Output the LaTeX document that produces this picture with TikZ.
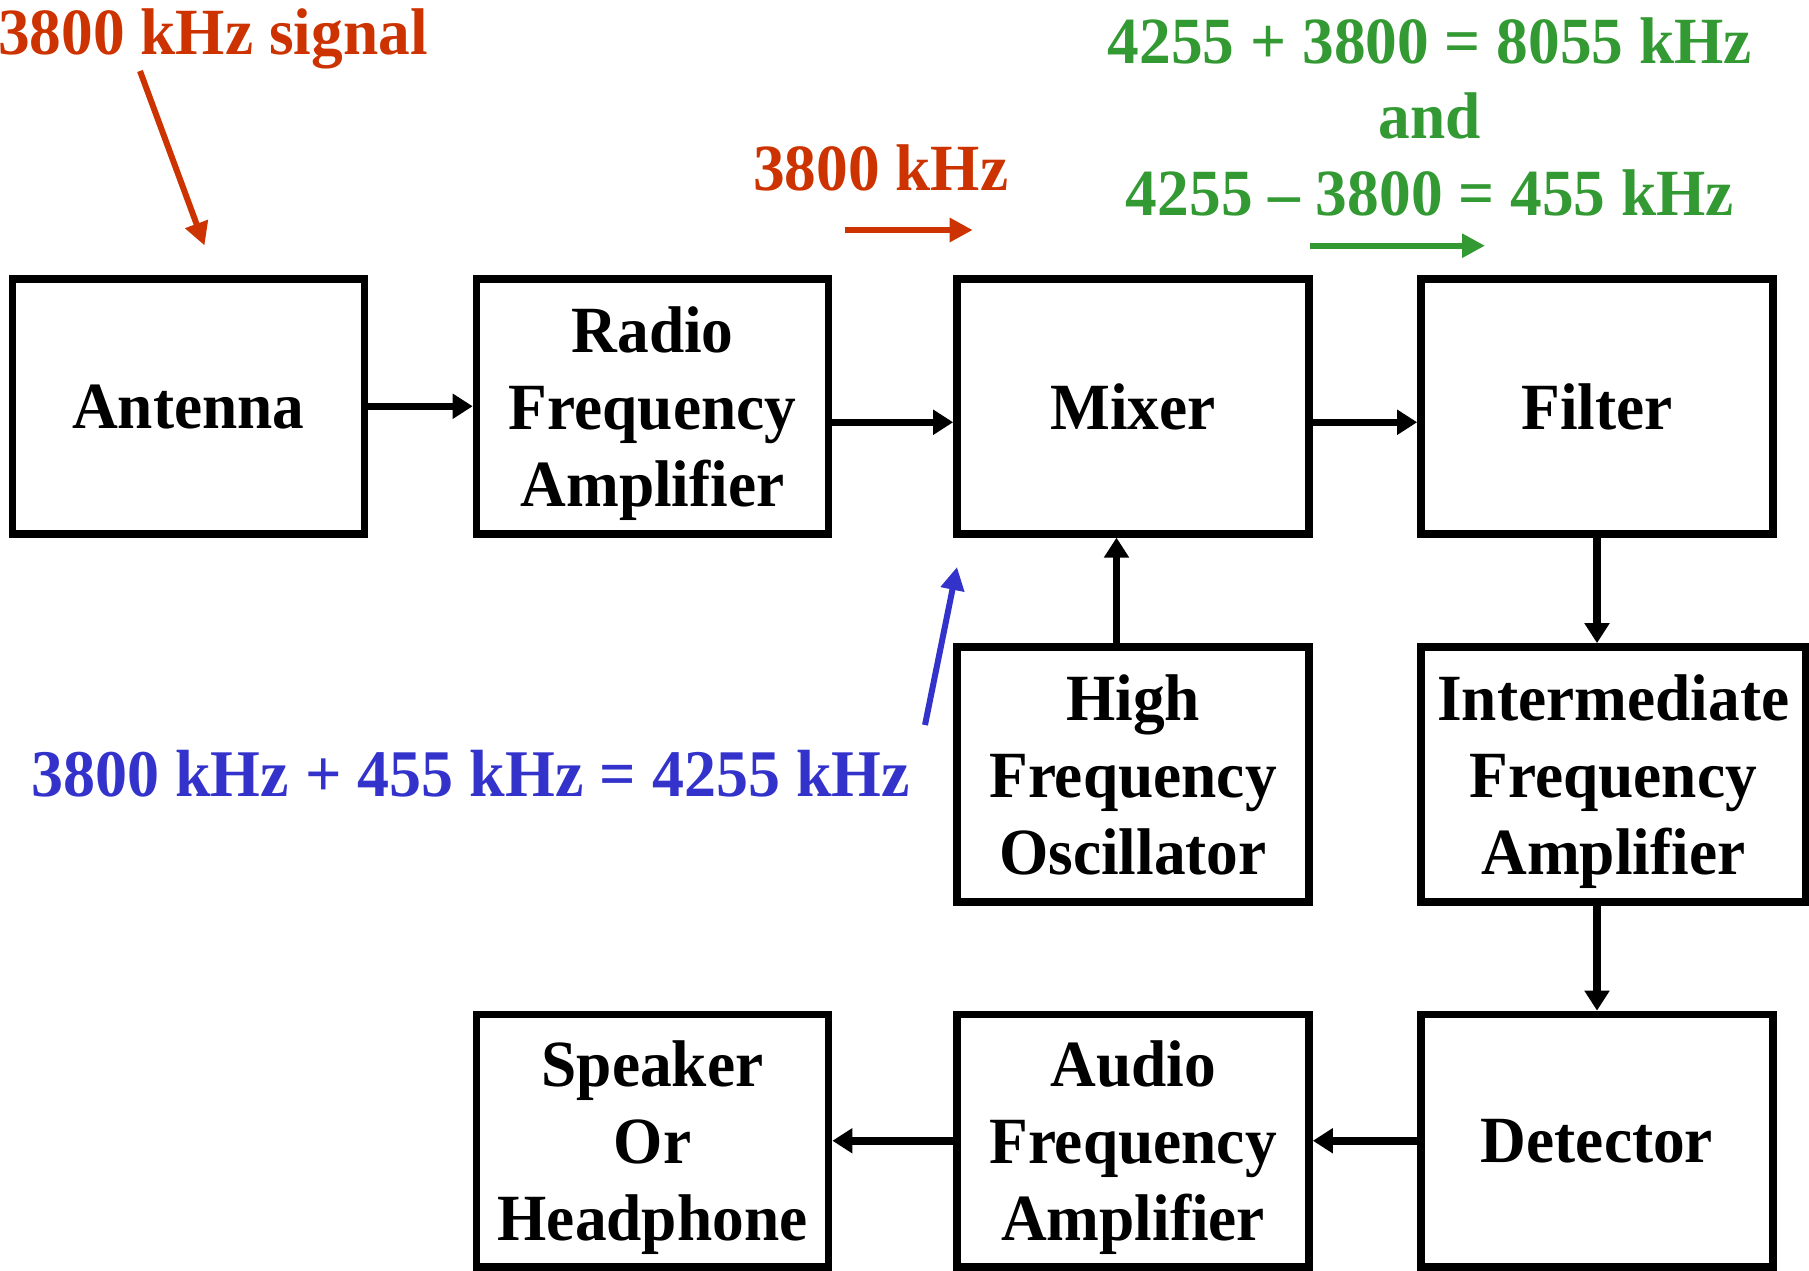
\documentclass[tikz,border=0pt]{standalone}
\usepackage{fontspec}
\setmainfont{Liberation Serif}[FakeStretch=0.96]
\usetikzlibrary{arrows.meta}
\definecolor{sigred}{HTML}{CC3300}
\definecolor{mixgreen}{HTML}{339933}
\definecolor{oscblue}{HTML}{3333CC}
\begin{document}
\begin{tikzpicture}[x=1pt,y=-1pt,
  block/.style={draw, line width=7.7pt, minimum width=352pt, minimum height=255pt,
    align=center, inner sep=0pt, text depth=0pt,
    font=\bfseries\fontsize{66}{77}\selectfont},
  flow/.style={line width=7.5pt, -{Triangle[length=20pt,width=24pt]}},
  note/.style={inner sep=0pt, font=\bfseries\fontsize{66}{77}\selectfont},
  hint/.style={line width=6pt, -{Triangle[length=23pt,width=23pt]}}]
\useasboundingbox (0,0) rectangle (1809,1271);

% receiver stages
\node[block] (ant) at (188.35,406.25) {Antenna};
\node[block] (rfa) at (652.55,406.25) {Radio\\Frequency\\Amplifier};
\node[block] (mix) at (1133,406.25) {Mixer};
\node[block] (fil) at (1597,406.25) {Filter};
\node[block] (osc) at (1133,774.5) {High\\Frequency\\Oscillator};
\node[block, minimum width=384.5pt] (ifa) at (1613.25,774.5) {Intermediate\\Frequency\\Amplifier};
\node[block, minimum height=252.5pt] (det) at (1597,1140.75) {Detector};
\node[block, minimum height=252.5pt] (afa) at (1133,1140.75) {Audio\\Frequency\\Amplifier};
\node[block, minimum height=252.5pt] (spk) at (652.55,1140.75) {Speaker\\Or\\Headphone};

% signal path
\draw[flow] (ant.east) -- (rfa.west);
\draw[flow] ([yshift=-16pt]rfa.east) -- ([yshift=-16pt]mix.west);
\draw[flow] ([yshift=-16pt]mix.east) -- ([yshift=-16pt]fil.west);
\draw[flow] ([xshift=-16.5pt]osc.north) -- ([xshift=-16.5pt]mix.south);
\draw[flow] (fil.south) -- (fil.south |- ifa.north);
\draw[flow] (fil.south |- ifa.south) -- (det.north);
\draw[flow] (det.west) -- (afa.east);
\draw[flow] (afa.west) -- (spk.east);

% incoming signal
\node[note, text=sigred, anchor=base west] (sig) at (-2,55) {3800 kHz signal};
\coordinate (sigtail) at (140,71);
\coordinate (sighead) at (204.5,245.5);
\draw[hint, sigred] (sigtail) -- (sighead);

% amplified signal into the mixer
\node[note, text=sigred, anchor=base] (rfnote) at (880.8,190) {3800 kHz};
\coordinate (rftail) at (845,230);
\coordinate (rfhead) at (972.7,230);
\draw[hint, sigred] (rftail) -- (rfhead);

% mixer products
\node[note, text=mixgreen, anchor=base] (sum) at (1430,63.5) {4255 + 3800 = 8055 kHz};
\node[note, text=mixgreen, anchor=base] (andw) at (1430,138.5) {and};
\node[note, text=mixgreen, anchor=base] (diff) at (1430,215.7) {4255 – 3800 = 455 kHz};
\coordinate (mxtail) at (1309.5,245.7);
\coordinate (mxhead) at (1485,245.7);
\draw[hint, mixgreen] (mxtail) -- (mxhead);

% local oscillator frequency
\node[note, text=oscblue, anchor=base, font=\bfseries\fontsize{66.7}{77}\selectfont]
  (lo) at (470.7,796) {3800 kHz + 455 kHz = 4255 kHz};
\coordinate (lotail) at (925,725);
\coordinate (lohead) at (957,567);
\draw[hint, oscblue] (lotail) -- (lohead);
\end{tikzpicture}
\end{document}
